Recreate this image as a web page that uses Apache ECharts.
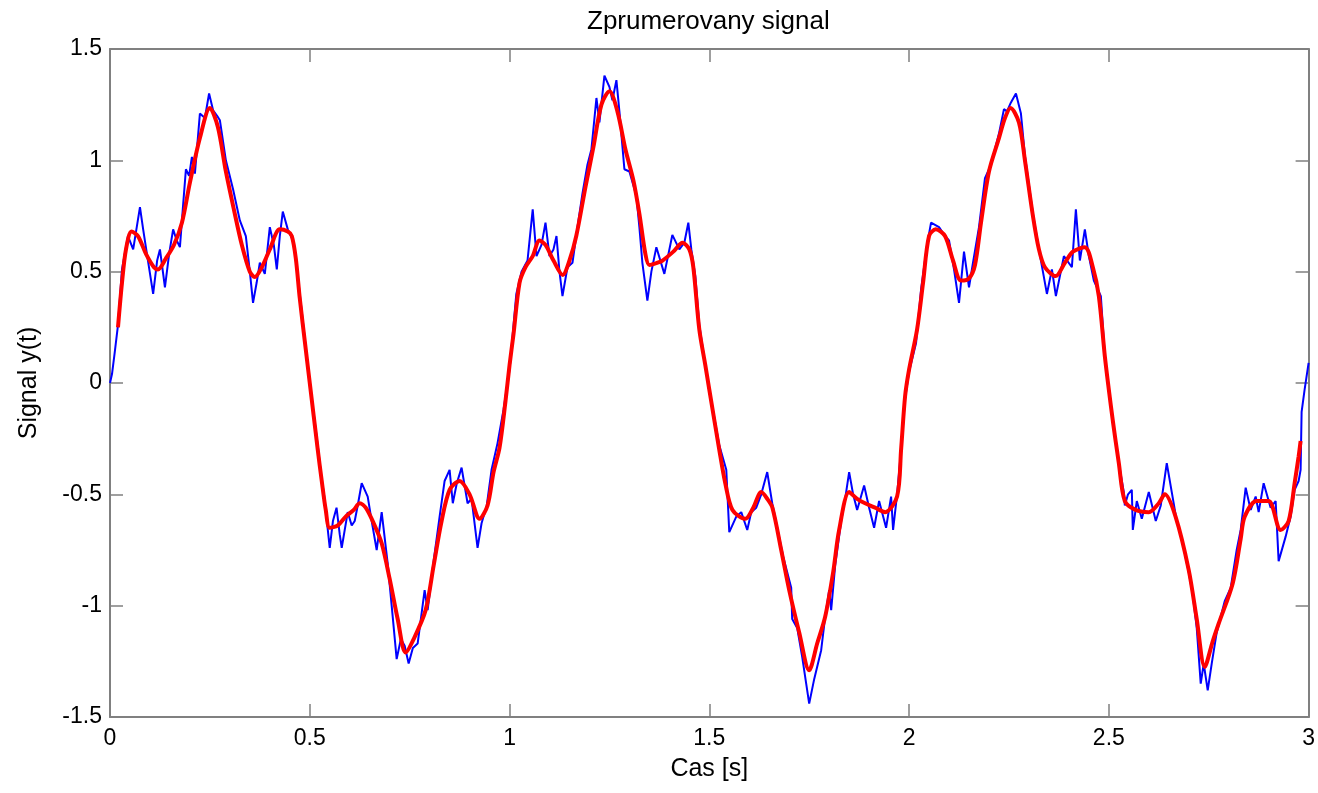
<!DOCTYPE html>
<html>
<head>
<meta charset="utf-8">
<script src="https://cdn.jsdelivr.net/npm/echarts@6/dist/echarts.min.js"></script>
<style>
html,body{margin:0;padding:0;background:#fff;}
#chart{width:1318px;height:793px;}
</style>
</head>
<body>
<div id="chart"></div>
<script>
// ---- data ----
const chartTitle = 'Zprumerovany signal';
const xName = 'Cas [s]';
const yName = 'Signal y(t)';
const xTicks = [0, 0.5, 1, 1.5, 2, 2.5, 3];
const yTicks = [-1.5, -1, -0.5, 0, 0.5, 1, 1.5];

// noisy (blue) signal: time [s]
const blueT = [
0.000,0.005,0.012,0.020,0.030,0.045,0.058,0.075,0.083,0.095,0.108,0.118,0.125,0.1375,0.148,0.158,0.167,0.175,0.183,0.190,0.198,0.205,0.2125,0.225,0.2375,0.248,0.258,0.268,0.275,0.290,0.308,0.325,0.340,0.350,0.358,0.367,0.375,0.3875,0.400,0.410,0.4175,0.425,0.4325,0.445,0.458,0.465,0.475,0.490,0.500,0.510,0.520,0.530,0.535,0.550,0.558,0.567,0.575,0.580,0.595,0.605,0.6125,0.620,0.630,0.645,0.655,0.6675,0.680,0.695,0.705,0.7175,0.728,0.7375,0.7475,0.758,0.770,0.7875,0.795,0.810,0.825,0.8375,0.850,0.858,0.868,0.880,0.895,0.905,0.920,0.930,0.943,0.955,0.970,0.985,
1.000,1.008,1.017,1.030,1.045,1.058,1.0675,1.080,1.090,1.100,1.110,1.1175,1.125,1.1325,1.145,1.1575,1.170,1.1825,1.195,1.205,1.2175,1.225,1.2375,1.250,1.2575,1.2675,1.275,1.2875,1.300,1.3175,1.325,1.3325,1.345,1.355,1.3675,1.3875,1.4075,1.425,1.4375,1.4475,1.455,1.465,1.475,1.490,1.500,1.510,1.525,1.5425,1.550,1.5675,1.580,1.595,1.605,1.6175,1.630,1.645,1.6575,1.670,1.685,1.695,1.705,1.7075,1.720,1.7325,1.7425,1.750,1.7625,1.780,1.790,1.800,1.805,1.815,1.830,1.840,1.850,1.860,1.870,1.8875,1.900,1.9125,1.925,1.9425,1.955,1.960,1.970,1.980,1.990,
2.000,2.0175,2.030,2.045,2.055,2.075,2.090,2.100,2.1125,2.125,2.1375,2.150,2.160,2.175,2.190,2.205,2.225,2.2375,2.245,2.255,2.2675,2.280,2.290,2.310,2.325,2.335,2.345,2.3575,2.3675,2.3875,2.4075,2.4175,2.4275,2.440,2.450,2.4625,2.480,2.490,2.500,2.510,2.525,2.5375,2.540,2.548,2.5575,2.560,2.570,2.5825,2.600,2.6175,2.630,2.645,2.6575,2.670,2.685,2.700,2.710,2.720,2.730,2.7375,2.7475,2.7575,2.770,2.780,2.790,2.805,2.820,2.830,2.8425,2.855,2.8675,2.875,2.8875,2.905,2.9175,2.925,2.9425,2.955,2.965,2.975,2.980,2.9825,2.990,3.000
];
// noisy (blue) signal: value
const blueY = [
0.00,0.04,0.14,0.26,0.51,0.66,0.60,0.79,0.69,0.55,0.40,0.55,0.60,0.43,0.58,0.69,0.64,0.61,0.80,0.96,0.93,1.015,0.94,1.21,1.19,1.30,1.225,1.20,1.18,1.00,0.87,0.73,0.66,0.50,0.36,0.45,0.54,0.49,0.70,0.62,0.51,0.66,0.77,0.69,0.64,0.56,0.40,0.16,-0.01,-0.14,-0.28,-0.44,-0.49,-0.74,-0.62,-0.56,-0.68,-0.74,-0.58,-0.64,-0.62,-0.55,-0.45,-0.51,-0.62,-0.75,-0.58,-0.81,-1.00,-1.24,-1.15,-1.18,-1.26,-1.19,-1.17,-0.93,-1.02,-0.80,-0.60,-0.44,-0.39,-0.54,-0.45,-0.38,-0.54,-0.52,-0.74,-0.63,-0.55,-0.39,-0.27,-0.12,
0.06,0.22,0.40,0.50,0.55,0.78,0.57,0.62,0.72,0.57,0.60,0.66,0.50,0.39,0.52,0.54,0.70,0.85,0.98,1.05,1.28,1.17,1.38,1.33,1.27,1.36,1.22,0.96,0.95,0.84,0.70,0.54,0.37,0.50,0.61,0.49,0.665,0.60,0.63,0.72,0.60,0.48,0.26,0.08,-0.03,-0.13,-0.28,-0.39,-0.67,-0.60,-0.58,-0.66,-0.58,-0.56,-0.50,-0.40,-0.54,-0.65,-0.78,-0.85,-0.92,-1.06,-1.10,-1.23,-1.35,-1.44,-1.33,-1.20,-1.05,-0.93,-1.02,-0.82,-0.62,-0.52,-0.40,-0.50,-0.57,-0.46,-0.56,-0.65,-0.53,-0.65,-0.51,-0.66,-0.50,-0.30,-0.07,
0.05,0.18,0.42,0.62,0.72,0.70,0.66,0.64,0.51,0.36,0.59,0.43,0.54,0.70,0.92,0.98,1.12,1.23,1.22,1.26,1.30,1.21,1.02,0.76,0.60,0.50,0.40,0.51,0.39,0.57,0.52,0.78,0.55,0.69,0.57,0.46,0.39,0.12,-0.03,-0.17,-0.36,-0.49,-0.55,-0.50,-0.48,-0.66,-0.53,-0.61,-0.49,-0.62,-0.55,-0.36,-0.49,-0.62,-0.72,-0.85,-0.95,-1.10,-1.35,-1.26,-1.38,-1.26,-1.12,-1.05,-0.98,-0.92,-0.75,-0.66,-0.47,-0.57,-0.51,-0.58,-0.45,-0.56,-0.53,-0.80,-0.69,-0.60,-0.48,-0.44,-0.39,-0.13,-0.03,0.09
];

// averaged (red) signal: time [s]
const redT = [
0.020,0.030,0.040,0.054,0.070,0.090,0.110,0.120,0.140,0.160,0.180,0.200,0.225,0.250,0.270,0.290,0.310,0.330,0.350,0.3625,0.380,0.400,0.425,0.445,0.455,0.465,0.475,0.490,0.500,0.510,0.520,0.530,0.540,0.550,0.570,0.590,0.610,0.625,0.640,0.660,0.680,0.700,0.720,0.740,0.760,0.790,0.810,0.830,0.850,0.875,0.900,0.925,0.945,0.960,0.975,0.990,
1.000,1.010,1.025,1.040,1.058,1.075,1.090,1.110,1.133,1.150,1.167,1.190,1.210,1.230,1.250,1.270,1.290,1.310,1.325,1.340,1.350,1.370,1.383,1.410,1.433,1.450,1.460,1.475,1.490,1.500,1.525,1.540,1.558,1.590,1.610,1.630,1.645,1.658,1.680,1.700,1.725,1.750,1.770,1.790,1.810,1.825,1.850,1.870,1.890,1.915,1.940,1.970,1.980,1.990,
2.000,2.020,2.035,2.050,2.067,2.090,2.110,2.130,2.150,2.165,2.180,2.200,2.225,2.240,2.254,2.275,2.290,2.310,2.325,2.340,2.367,2.390,2.410,2.440,2.460,2.475,2.490,2.500,2.510,2.525,2.540,2.567,2.600,2.625,2.640,2.667,2.700,2.720,2.740,2.760,2.775,2.810,2.830,2.840,2.870,2.900,2.930,2.950,2.965,2.975,2.980
];
// averaged (red) signal: value
const redY = [
0.25,0.45,0.60,0.68,0.66,0.58,0.52,0.51,0.56,0.62,0.72,0.90,1.10,1.235,1.15,0.95,0.78,0.62,0.50,0.476,0.52,0.60,0.69,0.68,0.66,0.56,0.38,0.15,0.00,-0.15,-0.30,-0.44,-0.57,-0.65,-0.64,-0.60,-0.57,-0.54,-0.56,-0.63,-0.72,-0.88,-1.06,-1.21,-1.15,-1.02,-0.82,-0.62,-0.48,-0.44,-0.50,-0.61,-0.55,-0.40,-0.29,-0.08,
0.08,0.22,0.45,0.52,0.57,0.64,0.62,0.55,0.485,0.55,0.66,0.88,1.06,1.25,1.31,1.22,1.05,0.91,0.76,0.58,0.53,0.54,0.55,0.59,0.63,0.60,0.52,0.24,0.08,-0.03,-0.30,-0.45,-0.57,-0.61,-0.56,-0.49,-0.52,-0.56,-0.75,-0.93,-1.12,-1.29,-1.17,-1.05,-0.85,-0.66,-0.49,-0.52,-0.54,-0.56,-0.58,-0.51,-0.30,-0.06,
0.06,0.24,0.45,0.66,0.69,0.66,0.55,0.46,0.47,0.53,0.72,0.95,1.10,1.19,1.235,1.17,1.00,0.75,0.60,0.52,0.48,0.54,0.59,0.61,0.52,0.39,0.12,-0.03,-0.17,-0.36,-0.53,-0.57,-0.58,-0.54,-0.50,-0.60,-0.84,-1.06,-1.275,-1.16,-1.08,-0.90,-0.70,-0.60,-0.53,-0.53,-0.66,-0.62,-0.45,-0.33,-0.26
];

// ---- chart ----
const zip = (t, y) => t.map((v, i) => [v, y[i]]);
const font = "'Liberation Sans', Arial, Helvetica, sans-serif";
const axisGray = '#808080';

function xAxisDef(pos, showLabels, withName) {
  return {
    type: 'value', position: pos, min: xTicks[0], max: xTicks[xTicks.length - 1],
    interval: xTicks[1] - xTicks[0],
    name: withName ? xName : '', nameLocation: 'middle', nameGap: 40,
    nameTextStyle: { fontFamily: font, fontSize: 25, color: '#000' },
    axisLine: { show: true, onZero: false, lineStyle: { color: axisGray, width: 2 } },
    axisTick: { show: true, inside: true, length: 13, lineStyle: { color: axisGray, width: 1.5 } },
    axisLabel: { show: showLabels, margin: 10, fontFamily: font, fontSize: 23, color: '#000' },
    splitLine: { show: false }
  };
}
function yAxisDef(pos, showLabels, withName) {
  return {
    type: 'value', position: pos, min: yTicks[0], max: yTicks[yTicks.length - 1],
    interval: yTicks[1] - yTicks[0],
    name: withName ? yName : '', nameLocation: 'middle', nameGap: 68, nameRotate: 90,
    nameTextStyle: { fontFamily: font, fontSize: 25, color: '#000' },
    axisLine: { show: true, onZero: false, lineStyle: { color: axisGray, width: 2 } },
    axisTick: { show: true, inside: true, length: 13, lineStyle: { color: axisGray, width: 1.5 } },
    axisLabel: { show: showLabels, margin: 8, fontFamily: font, fontSize: 23, color: '#000' },
    splitLine: { show: false }
  };
}

const chart = echarts.init(document.getElementById('chart'), null, { renderer: 'canvas' });
chart.setOption({
  animation: false,
  backgroundColor: '#ffffff',
  title: {
    text: chartTitle, left: 582, top: 4,
    textStyle: { fontFamily: font, fontSize: 26, fontWeight: 'normal', color: '#000' }
  },
  grid: { left: 110, right: 8, top: 49, bottom: 76, containLabel: false },
  xAxis: [xAxisDef('bottom', true, true), xAxisDef('top', false, false)],
  yAxis: [yAxisDef('left', true, true), yAxisDef('right', false, false)],
  series: [
    {
      type: 'line', name: 'signal', xAxisIndex: 0, yAxisIndex: 0,
      data: zip(blueT, blueY), showSymbol: false, symbol: 'none',
      lineStyle: { color: '#0000ff', width: 2 }, z: 2
    },
    {
      type: 'line', name: 'average', xAxisIndex: 0, yAxisIndex: 0,
      data: zip(redT, redY), showSymbol: false, symbol: 'none', smooth: 0.3,
      lineStyle: { color: '#ff0000', width: 4 }, z: 3
    }
  ]
});
</script>
</body>
</html>
